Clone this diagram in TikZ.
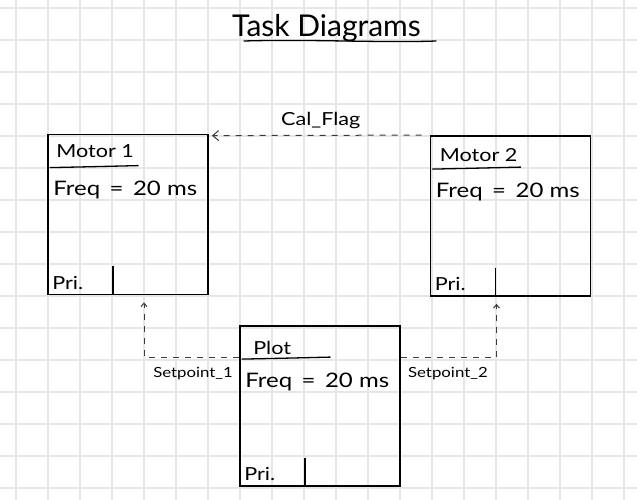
\documentclass[tikz,border=0pt]{standalone}
\usepackage{fontspec}
\setmainfont{Lato}
\newfontfamily\hand[FakeStretch=1.2]{Lato}
\usetikzlibrary{arrows.meta,calc}
\definecolor{gridgray}{HTML}{E6E6E6}
\definecolor{dashgray}{HTML}{3A3A3A}
\begin{document}
\begin{tikzpicture}[x=1pt,y=-1pt,
  gridline/.style={draw=gridgray,line width=1.4pt},
  taskbox/.style={draw=black,line width=1.8pt,minimum width=160pt,minimum height=160pt,inner sep=0pt},
  txt/.style={inner sep=0pt,text=black,font={\hand\fontsize{18}{20}\selectfont}},
  bigtxt/.style={inner sep=0pt,text=black,font={\hand\fontsize{20}{22}\selectfont}},
  smalltxt/.style={inner sep=0pt,text=black,font={\hand\fontsize{14}{16}\selectfont}},
  titletxt/.style={inner sep=0pt,text=black,font={\fontsize{30}{32}\selectfont}},
  penline/.style={draw=black,line width=1.3pt,line cap=round},
  flow/.style={draw=dashgray,line width=1pt,dash pattern=on 6pt off 6pt},
  bighead/.style={-{Straight Barb[length=6pt,width=10pt,line width=1pt]}},
  smallhead/.style={-{Straight Barb[length=3.5pt,width=6pt,line width=1pt]}}
]
\useasboundingbox (0,0) rectangle (637,500);
\fill[white] (0,0) rectangle (637,500);
% grid
\foreach \k in {0,...,19} {\draw[gridline] (16+32*\k,0) -- (16+32*\k,500);}
\foreach \k in {0,...,15} {\draw[gridline] (0,8+32*\k) -- (637,8+32*\k);}

% title
\node[titletxt,anchor=base west] (title) at (232,37) {Task Diagrams};
\draw[penline] ($(title.base west)+(12,4)$) .. controls ($(title.base west)+(80,2)$) and ($(title.base east)+(-40,6)$) .. ($(title.base east)+(15,4)$);

% boxes
\node[taskbox] (m1) at (128,214.5) {};
\node[taskbox] (m2) at (510.5,216) {};
\node[taskbox] (pl) at (320,406) {};

% box contents
\foreach \b/\name/\dx/\dy in {m1/Motor 1/9/24, m2/Motor 2/10/26, pl/Plot/14/29} {
  \node[txt,anchor=base west] (\b-name) at ($(\b.north west)+(\dx,\dy)$) {\name};
  \draw[penline] ($(\b.north west)+(3,34)$) .. controls ($(\b.north west)+(50,33)$) .. ($(\b.north west)+(91,32)$);
  \node[bigtxt,anchor=base west] (\b-freq) at ($(\b.north west)+(6,62)$) {Freq\, =\, 20 ms};
  \node[txt,anchor=base west] (\b-pri) at ($(\b.south west)+(5,-6)$) {Pri.};
  \draw[draw=black,line width=1.5pt] ($(\b.south west)+(66,-29)$) -- ($(\b.south west)+(66,0)$);
}

% connectors
\coordinate (calstart) at ($(m2.north west)+(-8,0)$);
\coordinate (calend) at ($(m1.north east)+(3,2)$);
\draw[flow,bighead] (calstart) -- (calend);
\node[txt,anchor=base] (cal) at ($(calstart)!0.5!(calend)+(4,-10)$) {Cal\_Flag};

\coordinate (sp1start) at ($(pl.north west)+(0,32)$);
\coordinate (sp1end) at ($(m1.south)+(16,7)$);
\draw[flow,smallhead] (sp1start) -| (sp1end);
\node[smalltxt,anchor=base east] (sp1) at ($(pl.north west)+(-6,52)$) {Setpoint\_1};

\coordinate (sp2start) at ($(pl.north east)+(0,32)$);
\coordinate (sp2end) at ($(m2.south)+(-14,7)$);
\draw[flow,smallhead] (sp2start) -| (sp2end);
\node[smalltxt,anchor=base west] (sp2) at ($(pl.north east)+(7,52)$) {Setpoint\_2};
\end{tikzpicture}
\end{document}
